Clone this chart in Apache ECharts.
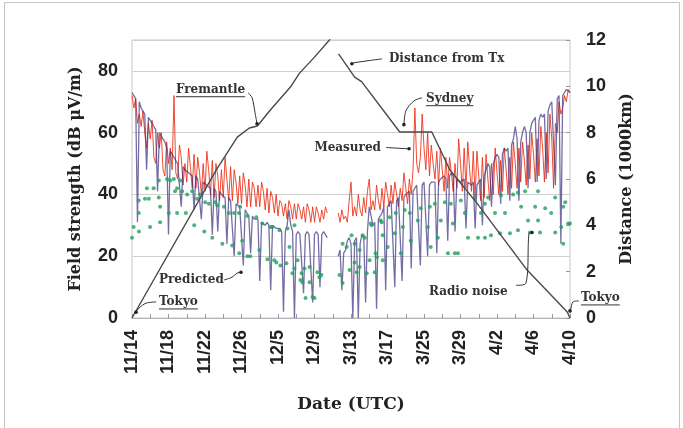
<!DOCTYPE html>
<html><head><meta charset="utf-8">
<script src="https://cdn.jsdelivr.net/npm/echarts/dist/echarts.min.js"></script>
<style>html,body{margin:0;padding:0;background:#fff}#c{width:683px;height:428px}</style>
</head><body><div id="c"></div>
<script>
// x axis: sample slots (5 slots per day), labels every 20 slots
const tickLabels = ['11/14','11/18','11/22','11/26','12/5','12/9','3/13','3/17','3/25','3/29','4/2','4/6','4/10'];

// Measured field strength (dB uV/m), one value per slot, null = no data
const measured = [
  72,68,71,63,66, 62,67,60,55,63, 58,64,52,50,60, 55,60,48,46,57, 50,55,48,72,47,
  45,56,52,43,50, 44,55,49,42,53, 42,52,47,40,50, 41,54,48,40,51, 39,50,46,38,48,
  39,52,45,38,49, 38,48,44,37,46, 37,47,43,36,45, 36,44,42,36,43, 36,44,41,35,42,
  34,41,39,34,40, 33,38,37,33,37, 32,38,36,32,37, 32,37,35,32,36, 31,37,35,31,36,
  31,36,34,31,35, 32,36,34,
  null,null,null,null,null,
  34,31,35,32,33, 31,38,44,33,36, 33,40,35,33,39, 34,41,45,35,38, 35,43,38,35,42,
  36,44,40,36,43, 37,44,40,36,42, 38,47,42,37,45, 40,48,68,50,47, 52,66,55,48,60,
  46,56,50,45,54, 43,55,48,41,52, 42,52,47,41,50, 42,58,50,41,55, 42,57,48,41,54,
  39,54,46,38,52, 39,53,45,38,50, 40,55,47,40,51, 41,55,48,40,52, 42,57,50,42,55,
  44,57,51,43,56, 45,60,53,44,58, 46,62,55,44,60, 47,66,58,42,63, 60,70,66,68,72,
  70,74,73
];

// Predicted field strength (dB uV/m)
const predicted = [
  73,72,71,31,70, 68,67,66,48,65, 64,63,62,61,41, 60,59,58,57,55,
  27,54,53,52,51, 50,50,36,49,48, 48,47,47,46,35, 46,45,45,32,44,
  44,43,43,42,27, 42,41,28,41,40, 40,39,24,39,38, 38,20,37,37,36,
  36,17,35,34,33, 21,33,32,32,32, 12,31,31,30,31, 30,9,30,30,29,
  29,29,28,2,28, 30,35,30,28,0, 27,28,27,27,8, 27,28,27,27,5,
  27,28,27,10,27, 28,27,26,
  null,null,null,null,null,
  20,22,9,21,22, 25,26,24,0,25, 26,0,24,27,26, 5,28,36,33,30,
  31,3,32,33,34, 36,9,36,37,38, 38,10,38,39,39, 12,39,40,40,41,
  16,41,42,43,43, 17,43,44,44,20, 43,44,44,44,21, 44,45,45,46,45,
  25,46,47,46,28, 45,45,44,44,45, 29,44,44,43,44, 29,43,44,45,30,
  46,48,50,49,36, 50,52,53,52,37, 53,55,54,55,38, 56,58,62,58,38,
  57,60,62,60,42, 60,63,64,65,44, 64,66,65,66,45, 67,69,70,70,43,
  71,72,24,72,73, 74,74,73
];

// Radio noise dots: slot position and level (dB uV/m)
const noiseSlot = [0,0.9,3.7,3.7,3.8,7.1,8.2,9.2,9.9,11.9,14.7,14.7,15.4,15.4,19.2,20.2,20.9,22.9,23.6,24.7,24.7,26.4,27.5,29.5,30.2,33,34.1,35.7,37.4,39.6,40.1,42.1,44,45.6,46.7,49.5,50.4,53.1,54.9,55.9,58.6,58.8,59.3,60.4,63.2,63.2,64.8,68.1,69.8,71.4,74.2,75.8,76.9,78,79.1,80.8,81.3,84.6,85.2,86.3,87.9,89,89,90.7,92.3,92.9,93.4,94.5,95.1,97.3,97.3,98.9,100,101.6,102.7,103.8,
  113.7,115.4,115.4,117.6,119.2,120.3,122,122,123.1,124.7,124.7,126.4,127.5,128.6,130.2,130.8,131.3,133,133.5,134.1,136.3,136.8,137.4,137.4,140.1,141.2,144,144.5,147.3,148.4,149.5,152.2,152.7,156.6,158.2,162.1,163.2,163.7,165.9,167.6,169.2,171.4,173.1,174.7,175.8,176.9,178.6,180.2,182.4,184.1,187.9,189.6,191.2,193.4,193.4,195.1,196.7,198.9,201.6,202.2,204.4,207.1,208.8,211.5,211.5,213.2,215.4,217,218.1,220.9,222.5,222.5,223.6,226.4,229.7,231.9,231.9,235.2,236.3,236.3,237.4,239,240];
const noiseDb = [26,29.5,34,38,28,38.6,42,38.6,29.5,42,39,44.5,36,31,45,34,44.5,45,41,42,34,44.5,41,34,40,41,30,38.6,40,28,37.5,37,26,37.5,36.5,24,36,34,23.5,34,34,21,36,25,33,20,20,32.6,22,30.6,19,29.5,29.5,18.7,18,28.4,17,17.7,29,23,14.5,30,16,18.7,12.3,14.5,11.6,16,6.5,16.5,11.6,6.8,6.5,14.8,13.2,13.9,
  13.9,11.3,24,23,15.5,26.8,24,18,14.8,22,16.5,26.8,26,14.5,18.7,30.6,30,14.8,21,19.7,31.6,31,26.8,18.7,23,32.6,27.4,34,21,29.5,35,34,25,31.6,35.5,29.5,36,23,37,26,31.6,37.5,21,37,30.6,21,21,38,34,26,38.7,26,34,37,26,39,26.8,34,27.4,39.7,34,27.4,40,28.4,40.6,36,41,31.6,27.7,36,31.6,41,27.7,35.5,34,27.7,39,29.5,36,24,37.5,30.6,30.6];

// Distance from transmitter (1000 km), null = break
const distSlot = [0,46.2,57.7,64.3,68.7,75.8,86.8,91.8,100,108.2,111,null,113.2,122,125.8,146.7,164.3,174.2,189,216.5,238.5,240];
const distKm   = [0,6.39,7.81,8.2,8.29,8.98,9.97,10.57,11.26,12.0,12.4,null,11.4,10.4,10.2,8.03,8.03,6.39,4.96,2.07,0.26,0];

// Annotations: text anchor and leader points in (slot, dB) coordinates
const notes = [
  {text:'Fremantle', at:[24.1,73.9], align:'left', underline:true, path:[[63.6,72.9],[65.8,71.3],[67.4,66.5],[68.5,62.9]]},
  {text:'Distance from Tx', at:[140.8,83.9], align:'left', underline:false, path:[[137,83.9],[128.2,83.2],[121.6,82.6],[120.5,82.3]]},
  {text:'Sydney', at:[161.1,71], align:'left', underline:true, path:[[158.9,71.3],[154.5,70.3],[150.1,67.1],[149,62.6]]},
  {text:'Measured', at:[136.4,55.2], align:'right', underline:false, path:[[139.2,55.2],[150.7,54.8],[151.8,54.8]]},
  {text:'Predicted', at:[14.8,12.3], align:'left', underline:false, path:[[50.4,12.3],[54.8,13.2],[57.5,14.5],[59.7,14.8]]},
  {text:'Tokyo', at:[14.8,5.2], align:'left', underline:true, path:[[13.2,5.2],[7.7,4.8],[3.8,3.2],[2.2,1.9]]},
  {text:'Radio noise', at:[162.7,8.4], align:'left', underline:false, path:[[210.4,10.6],[215.9,11.3],[217.5,27.4],[219.2,27.7]]},
  {text:'Tokyo', at:[246,6.5], align:'left', underline:true, path:[[244.9,5.5],[241.6,5.2],[240.3,2.6],[240,2.3]]}
];

const toPairs = arr => arr.map((v,i) => [i, v == null ? '-' : v]);
const zip = (xs, ys) => xs.map((x,i) => (x == null ? ['-','-'] : [x, ys[i]]));

const chart = echarts.init(document.getElementById('c'));
const sans = 'Liberation Sans', serif = 'DejaVu Serif';
chart.setOption({
  animation:false,
  grid:{left:132,right:113,top:40,bottom:110,show:true,borderColor:'#c8c8c8',borderWidth:1},
  xAxis:{type:'value',min:0,max:240,interval:20,
    axisLine:{show:true,onZero:false,lineStyle:{color:'#b5b5b5'}},
    axisTick:{show:true,inside:true,length:4,lineStyle:{color:'#999'}},
    minorTick:{show:true,splitNumber:2,length:4,lineStyle:{color:'#999'}},
    splitLine:{show:false},
    axisLabel:{rotate:90,margin:12,fontSize:18,fontWeight:'bold',fontFamily:sans,color:'#222',
      formatter:v => tickLabels[Math.round(v/20)] || ''},
    name:'Date (UTC)',nameLocation:'middle',nameGap:78,
    nameTextStyle:{fontFamily:serif,fontSize:17,fontWeight:'bold',color:'#222'}},
  yAxis:[
    {type:'value',min:0,max:90,interval:20,
     axisLine:{show:false},axisTick:{show:false},
     splitLine:{show:true,lineStyle:{color:'#cfcfcf'}},
     axisLabel:{showMaxLabel:false,margin:14,fontSize:18,fontWeight:'bold',fontFamily:sans,color:'#222'},
     name:'Field strength (dB μV/m)',nameLocation:'middle',nameRotate:90,nameGap:48,
     nameTextStyle:{fontFamily:serif,fontSize:16,fontWeight:'bold',color:'#222'}},
    {type:'value',min:0,max:12,interval:2,position:'right',
     axisLine:{show:false},axisTick:{show:true,inside:true,length:4,lineStyle:{color:'#999'}},
     splitLine:{show:false},
     axisLabel:{margin:16,fontSize:18,fontWeight:'bold',fontFamily:sans,color:'#222'},
     name:'Distance (1000km)',nameLocation:'middle',nameRotate:90,nameGap:49,
     nameTextStyle:{fontFamily:serif,fontSize:16,fontWeight:'bold',color:'#222'}}
  ],
  series:[
    {name:'Measured',type:'line',data:toPairs(measured),showSymbol:false,connectNulls:false,
     lineStyle:{color:'rgba(236,45,18,0.85)',width:1},itemStyle:{color:'#ec2d12'},z:2},
    {name:'Predicted',type:'line',data:toPairs(predicted),showSymbol:false,connectNulls:false,
     lineStyle:{color:'rgba(58,48,125,0.7)',width:1.3},itemStyle:{color:'#3a307d'},z:3},
    {name:'Radio noise',type:'scatter',data:zip(noiseSlot,noiseDb),symbol:'circle',symbolSize:4,
     itemStyle:{color:'#1f9f5f'},z:4},
    {name:'Distance',type:'line',yAxisIndex:1,data:zip(distSlot,distKm),showSymbol:false,connectNulls:false,
     lineStyle:{color:'#4a4a4a',width:1.4},itemStyle:{color:'#4a4a4a'},z:5}
  ]
});

const ctx = document.createElement('canvas').getContext('2d');
const noteFont = 'bold 12px "DejaVu Serif"';
ctx.font = noteFont;
const P = p => chart.convertToPixel({xAxisIndex:0,yAxisIndex:0}, p);
const els = [{type:'rect',shape:{x:4.5,y:2.5,width:675,height:440},style:{fill:null,stroke:'#c4c4c4',lineWidth:1},silent:true}];
notes.forEach(n => {
  const a = P(n.at);
  els.push({type:'text',x:a[0],y:a[1],style:{text:n.text,font:noteFont,fill:'#333',align:n.align,verticalAlign:'middle'},z:100});
  if (n.underline) {
    const w = ctx.measureText(n.text).width;
    const x0 = n.align === 'right' ? a[0]-w : a[0];
    els.push({type:'line',shape:{x1:x0,y1:a[1]+7,x2:x0+w,y2:a[1]+7},style:{stroke:'#333',lineWidth:1},z:100});
  }
  const pts = n.path.map(P);
  els.push({type:'polyline',shape:{points:pts,smooth:0.3},style:{stroke:'#333',lineWidth:1,fill:null},z:100});
  const e = pts[pts.length-1];
  els.push({type:'circle',shape:{cx:e[0],cy:e[1],r:1.8},style:{fill:'#222'},z:101});
});
chart.setOption({graphic:{elements:els}});
</script></body></html>
